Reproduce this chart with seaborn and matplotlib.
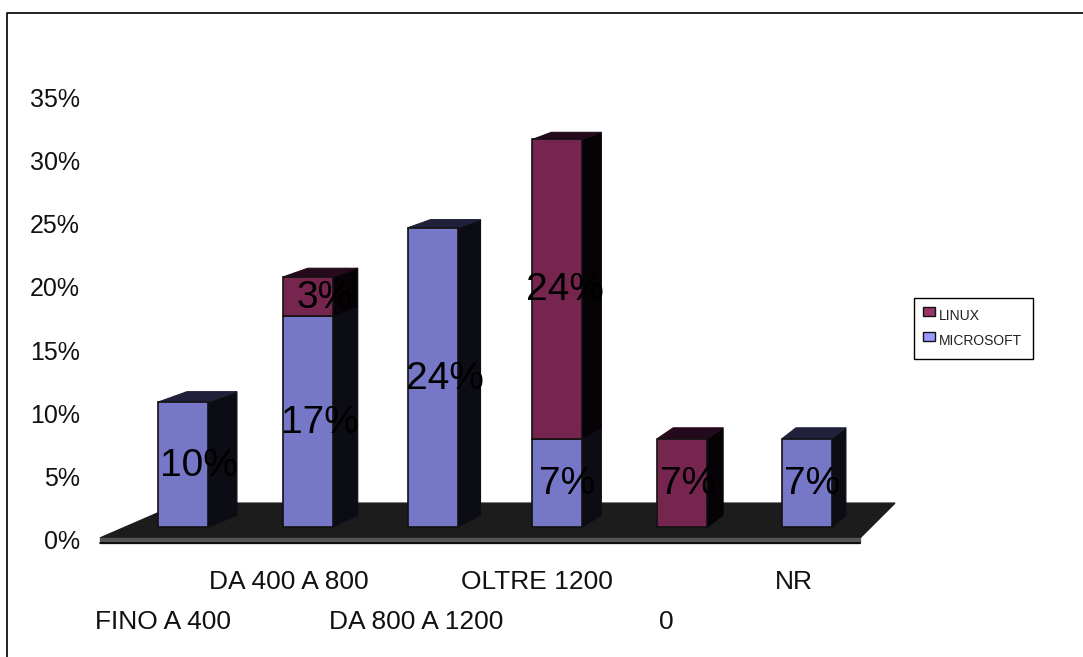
import matplotlib
matplotlib.use("Agg")
import matplotlib.pyplot as plt
from matplotlib.legend_handler import HandlerPatch
from matplotlib.lines import Line2D
from matplotlib.patches import Patch, Rectangle
import numpy as np
import pandas as pd
import seaborn as sns

categories = ["FINO A 400", "DA 400 A 800", "DA 800 A 1200", "OLTRE 1200", "0", "NR"]
microsoft = [9.9, 16.7, 23.7, 7.0, 0.0, 7.0]
linux = [0.0, 3.1, 0.0, 23.7, 7.0, 0.0]

# layout only, in pixels
depth_x = [29, 25, 23, 19, 16, 14]
label_dx_ms = [16, 12, 12, 10, 0, 5]
label_dx_lx = [0, 17, 0, 8, 6, 0]
tick_dx = [-1.5, 0, 2, -2, 3, 6]

W, H = 1083, 657
sns.set_theme(style="white")
plt.rcParams["font.family"] = ["Liberation Sans", "DejaVu Sans"]

fig = plt.figure(figsize=(W / 100, H / 100), dpi=100)
ax = fig.add_axes([100 / W, 1 - 542 / H, 760 / W, 443 / H])
ax.patch.set_alpha(0)

PX_X = 124.8
PX_Y = 442 / 35
BASE = 1.1
BAR_W = 0.4
TICK_SHIFT = 1 / PX_Y


def rise(y):
    """Perspective: the depth of a bar seen from the front shrinks with height."""
    return (12 - 0.16 * (y - BASE)) / PX_Y


df = pd.DataFrame({"cat": categories, "MICROSOFT": microsoft, "LINUX": linux})
series = [
    ("MICROSOFT", np.array(microsoft), np.full(6, BASE), "#7777C8", "#20203A", "#0C0C14", label_dx_ms),
    ("LINUX", np.array(linux), BASE + np.array(microsoft), "#76254F", "#240A1C", "#070206", label_dx_lx),
]

for name, vals, bottoms, front, top, side, ldx in series:
    keep = vals > 0
    sub = df[keep]
    sns.barplot(data=sub, x="cat", y=name, order=categories, ax=ax, color=front,
                saturation=1, width=BAR_W, bottom=bottoms[keep], edgecolor="#111111",
                linewidth=1.2, zorder=4)
    for i in np.where(keep)[0]:
        dx = depth_x[i] / PX_X
        l, r = i - BAR_W / 2, i + BAR_W / 2
        b, t = bottoms[i], bottoms[i] + vals[i]
        ax.fill([r, r + dx, r + dx, r], [b, b + rise(b), t + rise(t), t], color=side, ec=side, lw=0.8,
                zorder=3, clip_on=False)
        ax.fill([l, l + dx, r + dx, r], [t, t + rise(t), t + rise(t), t], color=top, ec=top, lw=0.8,
                zorder=3, clip_on=False)
        ax.text(i + ldx[i] / PX_X, b + vals[i] / 2 - 0.1, f"{vals[i]:.0f}%", ha="center", va="center",
                fontsize=28, color="black", zorder=6, clip_on=False)

# floor of the 3D plot
ax.fill([-0.665, 5.425, 5.705, -0.02], [0.24, 0.24, 3.0, 3.0], color="#1C1C1C", zorder=1, clip_on=False)
ax.fill([-0.665, 5.425, 5.425, -0.665], [0.24, 0.24, -0.12, -0.12], color="#555555", zorder=1, clip_on=False)
ax.plot([-0.665, 5.425], [-0.16, -0.16], color="black", lw=1.2, zorder=1, clip_on=False)

ax.set_xlabel("")
ax.set_ylabel("")
ytick_values = np.arange(0, 36, 5)
ax.set_yticks(ytick_values - TICK_SHIFT)
ax.set_yticklabels([f"{v}%" for v in ytick_values], fontsize=18, color="#111111")
ax.set_xticks(np.arange(6) - 0.15 + np.array(tick_dx) / PX_X)
ax.set_xticklabels(categories, fontsize=19, color="#111111")
ax.set_xlim(-0.665, 5.425)
ax.set_ylim(-TICK_SHIFT, 35)
ax.tick_params(axis="y", length=0, pad=14.5)
ax.tick_params(axis="x", length=0)
for lab in ax.get_yticklabels():
    lab.set_verticalalignment("center")
for i, tick in enumerate(ax.xaxis.get_major_ticks()):
    tick.set_pad(48.8 if i % 2 == 0 else 20.3)
for s in ax.spines.values():
    s.set_visible(False)


def raised_swatch(legend, orig_handle, xdescent, ydescent, width, height, fontsize):
    return Rectangle((-xdescent - 1.5, -ydescent + 3.2), 8.6, 6.5)


handles = [Patch(facecolor="#993366", edgecolor="#111111", label="LINUX"),
           Patch(facecolor="#9999FF", edgecolor="#111111", label="MICROSOFT")]
leg = fig.legend(handles=handles, loc="upper left", bbox_to_anchor=(914 / W, 1 - 298 / H),
                 bbox_transform=fig.transFigure, fontsize=10, frameon=True, fancybox=False,
                 edgecolor="black", framealpha=1, borderpad=0.8, labelspacing=0.8,
                 handlelength=0.75, handleheight=0.7, handletextpad=0.25, borderaxespad=0,
                 handler_map={Patch: HandlerPatch(patch_func=raised_swatch)})
leg.get_frame().set_linewidth(1)
for t in leg.get_texts():
    t.set_color("#222222")

# outer frame of the picture
fig.add_artist(Line2D([7 / W, 7 / W, 1], [0, 1 - 13 / H, 1 - 13 / H], color="black", lw=1.2))

fig.savefig("out.png", dpi=100)
